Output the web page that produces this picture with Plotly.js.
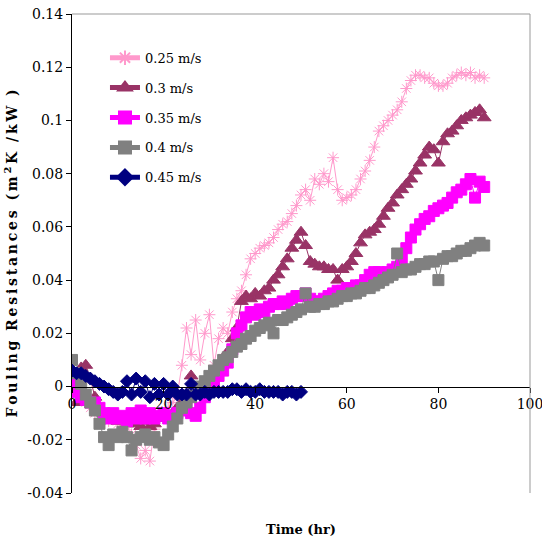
<!DOCTYPE html>
<html>
<head>
<meta charset="utf-8">
<script src="https://cdn.plot.ly/plotly-3.0.1.min.js"></script>
<style>html,body{margin:0;padding:0;background:#fff;}#chart{width:542px;height:542px;}</style>
</head>
<body>
<div id="chart"></div>
<script>
// ---- data ----
const seriesNames = ["0.25 m/s", "0.3 m/s", "0.35 m/s", "0.4 m/s", "0.45 m/s"];

const timeLong = [0,1,2,3,4,5,6,7,8,9,10,11,12,13,14,15,16,17,18,19,20,21,22,23,24,25,26,27,28,29,30,
  31,32,33,34,35,36,37,38,39,40,41,42,43,44,45,46,47,48,49,50,51,52,53,54,55,56,57,58,59,60,
  61,62,63,64,65,66,67,68,69,70,71,72,73,74,75,76,77,78,79,80,81,82,83,84,85,86,87,88,89,90];
const timeShort = [0,1,2,3,4,5,6,7,8,9,10,11,12,13,14,15,16,17,18,19,20,21,22,23,24,25,
  26,27,28,29,30,31,32,33,34,35,36,37,38,39,40,41,42,43,44,45,46,47,48,49,50];

const r025 = [0.002,-0.003,0.001,-0.006,-0.008,-0.010,-0.012,-0.011,-0.013,-0.012,-0.014,-0.013,-0.015,-0.018,-0.022,-0.027,-0.024,-0.028,-0.016,-0.012,-0.010,
  -0.008,-0.006,-0.003,0.008,0.022,0.012,0.025,0.010,0.020,0.027,0.008,0.018,0.022,0.020,0.028,0.033,0.036,0.042,0.048,0.050,
  0.052,0.053,0.054,0.056,0.059,0.061,0.062,0.065,0.068,0.072,0.074,0.070,0.078,0.076,0.080,0.077,0.086,0.074,0.070,0.071,
  0.072,0.074,0.078,0.081,0.085,0.090,0.096,0.098,0.100,0.102,0.104,0.107,0.112,0.115,0.117,0.117,0.116,0.116,0.114,0.113,
  0.113,0.114,0.116,0.117,0.118,0.117,0.118,0.116,0.117,0.116];

const r030 = [0.004,-0.006,0.007,0.008,0.003,-0.004,-0.008,-0.010,-0.011,-0.012,-0.013,-0.012,-0.014,-0.013,-0.014,-0.015,-0.013,-0.015,-0.014,-0.012,-0.011,
  -0.012,-0.010,-0.008,-0.006,-0.003,0.004,-0.001,0.000,0.001,0.003,0.006,0.008,0.010,0.013,0.018,0.022,0.032,0.034,0.033,0.035,
  0.034,0.036,0.037,0.040,0.042,0.045,0.048,0.052,0.055,0.058,0.053,0.047,0.046,0.045,0.045,0.044,0.044,0.040,0.044,0.045,
  0.047,0.050,0.054,0.057,0.058,0.059,0.061,0.064,0.067,0.069,0.072,0.074,0.076,0.078,0.081,0.084,0.087,0.090,0.089,0.084,
  0.092,0.095,0.096,0.098,0.100,0.101,0.102,0.103,0.104,0.101];

const r035 = [0.002,-0.002,-0.004,-0.005,-0.006,-0.006,-0.008,-0.010,-0.012,-0.010,-0.012,-0.011,-0.013,-0.010,-0.012,-0.009,-0.012,-0.010,-0.012,-0.011,-0.010,
  -0.012,-0.011,-0.010,-0.009,-0.008,-0.010,-0.011,-0.008,-0.004,0.000,0.002,0.004,0.006,0.009,0.014,0.020,0.023,0.026,0.028,0.027,
  0.029,0.028,0.030,0.031,0.031,0.032,0.031,0.033,0.034,0.034,0.035,0.033,0.032,0.032,0.033,0.034,0.035,0.036,0.036,0.037,
  0.037,0.038,0.038,0.040,0.042,0.043,0.043,0.042,0.043,0.044,0.045,0.048,0.052,0.056,0.059,0.061,0.063,0.064,0.066,0.067,
  0.068,0.069,0.071,0.073,0.074,0.076,0.078,0.071,0.077,0.075];

const r040 = [0.010,0.005,0.001,-0.003,-0.006,-0.009,-0.014,-0.019,-0.022,-0.018,-0.019,-0.017,-0.019,-0.024,-0.020,-0.019,-0.018,-0.020,-0.019,-0.021,-0.022,
  -0.018,-0.015,-0.012,-0.008,-0.006,-0.004,-0.002,0.000,0.002,0.004,0.006,0.008,0.010,0.011,0.013,0.015,0.016,0.018,0.019,0.021,
  0.022,0.023,0.024,0.020,0.025,0.025,0.026,0.027,0.028,0.029,0.035,0.030,0.030,0.031,0.031,0.032,0.032,0.033,0.034,0.034,
  0.035,0.035,0.036,0.037,0.037,0.038,0.039,0.040,0.041,0.042,0.050,0.043,0.044,0.044,0.045,0.046,0.046,0.047,0.047,0.040,
  0.048,0.049,0.049,0.050,0.051,0.051,0.052,0.053,0.054,0.053];

const r045 = [0.006,0.005,0.005,0.004,0.003,0.002,0.001,0.000,-0.001,-0.002,-0.003,-0.002,0.002,-0.003,0.003,-0.002,0.002,-0.004,0.001,-0.003,0.001,
  -0.003,0.000,-0.003,-0.003,-0.003,0.001,-0.003,-0.003,-0.002,-0.003,-0.002,-0.002,-0.002,-0.002,-0.001,-0.001,-0.002,-0.001,-0.002,-0.002,
  -0.001,-0.002,-0.002,-0.002,-0.002,-0.003,-0.002,-0.002,-0.003,-0.002];

const yTickVals = [-0.04,-0.02,0,0.02,0.04,0.06,0.08,0.1,0.12,0.14];
const yTickText = ["-0.04","-0.02","0","0.02","0.04","0.06","0.08","0.1","0.12","0.14"];
const xTickVals = [0,20,40,60,80,100];
const xTickText = ["0","20","40","60","80","100"];

// ---- styles ----
const FONT = "DejaVu Serif";
const styles = [
  {color:"#FF99CC", symbol:"asterisk-open", size:10},
  {color:"#993366", symbol:"triangle-up", size:12},
  {color:"#FF00FF", symbol:"square", size:11},
  {color:"#808080", symbol:"square", size:11},
  {color:"#000080", symbol:"diamond", size:10}
];
const xs = [timeLong, timeLong, timeLong, timeLong, timeShort];
const ys = [r025, r030, r035, r040, r045];

const traces = seriesNames.map((n,i)=>({
  type:"scatter", mode:"lines+markers", name:n, x:xs[i], y:ys[i],
  legendgroup:"g"+i,
  line:{color:styles[i].color, width:1},
  marker:{color:styles[i].color, symbol:styles[i].symbol, size:styles[i].size,
          line:{color:styles[i].color, width:1}}
}));

const zeroPos = (0 - yTickVals[0])/(yTickVals[yTickVals.length-1]-yTickVals[0]);
const ts = "\u2009";
const yTitle = "<b>" + ["Fouling","Resistances","(m<sup>2</sup>K","/kW", ")"]
  .map(w => w.replace(/<sup>2<\/sup>/, "\u00B2").split("").join(ts).replace("\u00B2", "<sup>2</sup>"))
  .join("  ") + "</b>";

const layout = {
  width:542, height:542,
  margin:{l:72, r:12, t:14, b:49},
  paper_bgcolor:"#fff", plot_bgcolor:"#fff",
  font:{family:FONT, size:14, color:"#000"},
  showlegend:true,
  legend:{x:0.072, y:0.94, xanchor:"left", yanchor:"top", bgcolor:"rgba(0,0,0,0)",
          font:{family:FONT, size:13, color:"#000"}, traceorder:"grouped", tracegroupgap:10,
          itemsizing:"constant"},
  xaxis:{range:[0,100], tickvals:xTickVals, ticktext:xTickText, anchor:"free", position:zeroPos,
         showline:true, linecolor:"#000", linewidth:1, ticks:"outside", ticklen:5, tickcolor:"#000",
         showgrid:false, zeroline:false, ticklabeloverflow:"allow",
         tickfont:{family:FONT, size:14},
         title:{text:"<b>Time (hr)</b>", font:{family:FONT, size:13}, standoff:113}},
  yaxis:{range:[-0.04,0.14], tickvals:yTickVals, ticktext:yTickText,
         showline:true, linecolor:"#000", linewidth:1, ticks:"outside", ticklen:5, tickcolor:"#000",
         showgrid:false, zeroline:false,
         tickfont:{family:FONT, size:14},
         title:{text:yTitle, font:{family:FONT, size:14}, standoff:6}},
  shapes:[
    {type:"line", xref:"paper", yref:"paper", x0:0, x1:1, y0:1, y1:1, line:{color:"#999", width:1}},
    {type:"line", xref:"paper", yref:"paper", x0:1, x1:1, y0:0, y1:1, line:{color:"#999", width:1}}
  ]
};

Plotly.newPlot("chart", traces, layout, {displayModeBar:false, staticPlot:true});
</script>
</body>
</html>
